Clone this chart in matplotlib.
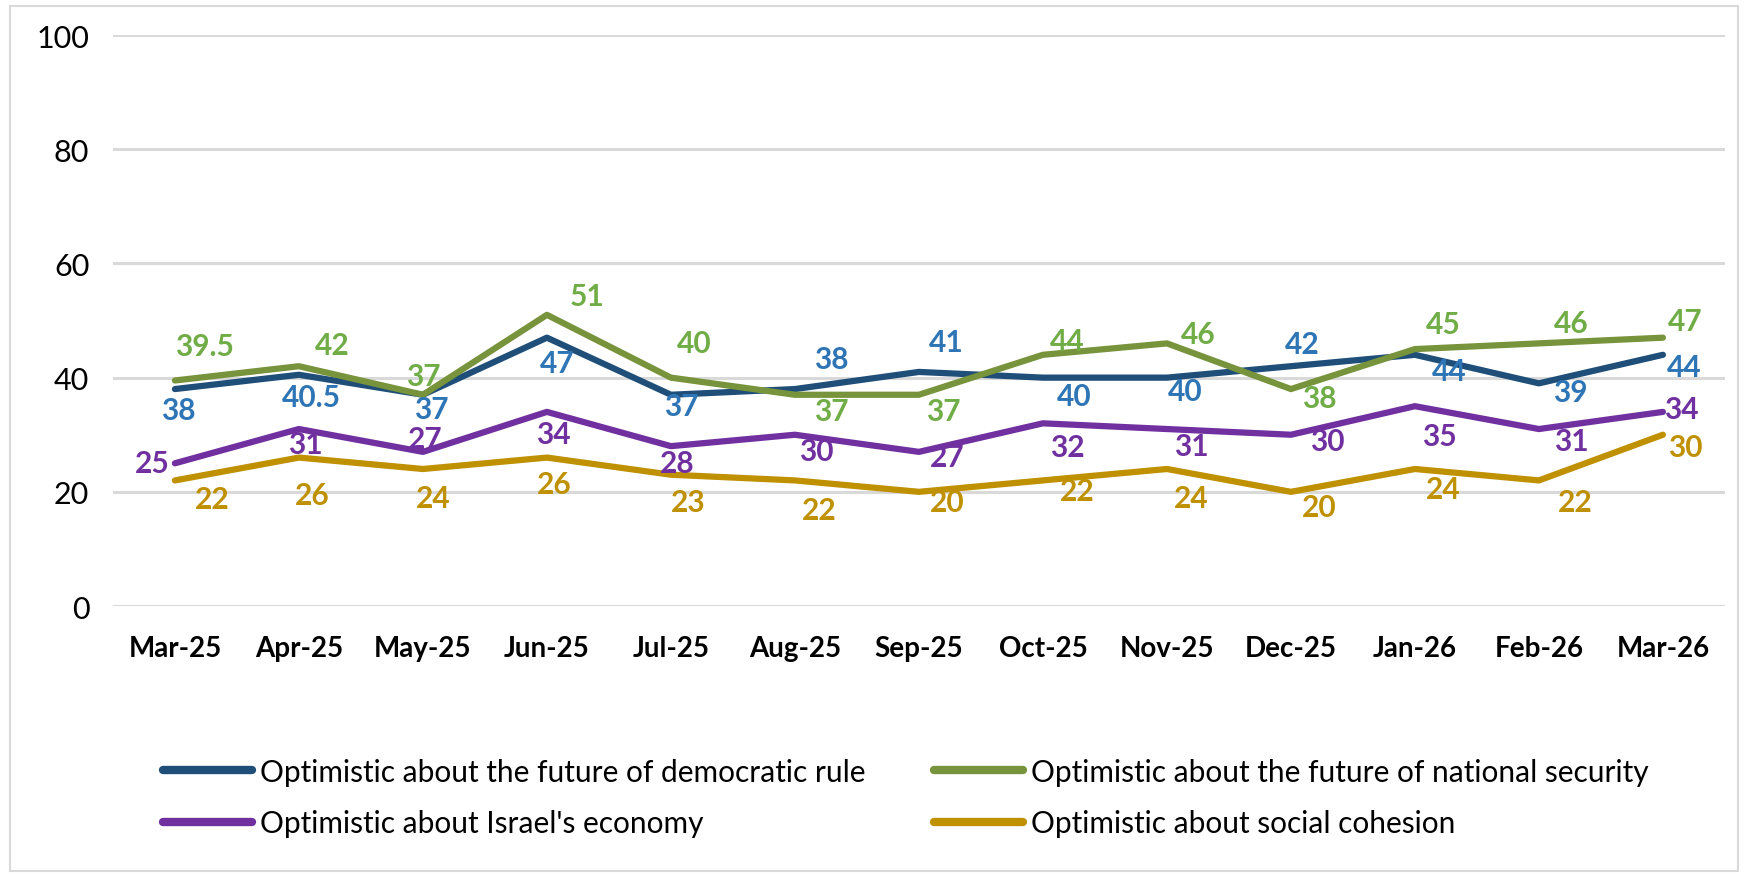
import matplotlib
matplotlib.use("Agg")
from matplotlib import pyplot as plt
from matplotlib.patches import Rectangle

months = ["Mar-25", "Apr-25", "May-25", "Jun-25", "Jul-25", "Aug-25", "Sep-25",
          "Oct-25", "Nov-25", "Dec-25", "Jan-26", "Feb-26", "Mar-26"]

democratic = [38, 40.5, 37, 47, 37, 38, 41, 40, 40, 42, 44, 39, 44]
security = [39.5, 42, 37, 51, 40, 37, 37, 44, 46, 38, 45, 46, 47]
economy = [25, 31, 27, 34, 28, 30, 27, 32, 31, 30, 35, 31, 34]
cohesion = [22, 26, 24, 26, 23, 22, 20, 22, 24, 20, 24, 22, 30]

names = ["Optimistic about the future of democratic rule",
         "Optimistic about the future of national security",
         "Optimistic about Israel's economy",
         "Optimistic about social cohesion"]

# label offsets (category steps, value units) as placed in the original
dem_dx = [0.03, 0.1, 0.07, 0.08, 0.08, 0.29, 0.22, 0.25, 0.15, 0.09, 0.28, 0.25, 0.17]
dem_dy = [-3.7, -3.9, -2.5, -4.4, -1.9, 5.3, 5.3, -3.3, -2.3, 3.9, -2.8, -1.6, -2.1]
sec_dx = [0.24, 0.27, 0.0, 0.32, 0.19, 0.29, 0.2, 0.2, 0.25, 0.23, 0.23, 0.26, 0.18]
sec_dy = [6.0, 3.7, 3.3, 3.3, 6.0, -2.8, -2.8, 2.5, 1.6, -1.6, 4.4, 3.5, 3.0]
eco_dx = [-0.18, 0.05, 0.02, 0.05, 0.05, 0.17, 0.23, 0.2, 0.2, 0.29, 0.2, 0.26, 0.15]
eco_dy = [0.0, -2.6, 2.3, -3.9, -3.0, -2.8, -0.9, -4.2, -3.0, -1.1, -5.3, -2.1, 0.5]
coh_dx = [0.3, 0.11, 0.08, 0.06, 0.14, 0.2, 0.23, 0.28, 0.2, 0.23, 0.23, 0.29, 0.18]
coh_dy = [-3.2, -6.6, -5.1, -4.6, -4.7, -5.1, -1.8, -1.9, -5.1, -2.6, -3.5, -3.7, -2.1]

plt.rcParams['font.family'] = ['Lato', 'DejaVu Sans']

fig = plt.figure(figsize=(17.48, 8.79), dpi=100)
ax = fig.add_axes([0.0646, 0.3094, 0.9222, 0.6496])

x = list(range(len(months)))
series = [
    (democratic, '#1F4E79', '#2E75B6', dem_dx, dem_dy, names[0]),
    (economy, '#7030A0', '#7030A0', eco_dx, eco_dy, names[2]),
    (cohesion, '#BF9000', '#BF9000', coh_dx, coh_dy, names[3]),
    (security, '#77933C', '#70AD47', sec_dx, sec_dy, names[1]),
]

lines = {}
for vals, lc, tc, dx, dy, name in series:
    ln, = ax.plot(x, vals, color=lc, lw=4.5, solid_joinstyle='round',
                  solid_capstyle='round', label=name, zorder=3)
    lines[name] = ln
    for i, v in enumerate(vals):
        ax.text(i + dx[i], v + dy[i], f"{v:g}", color=tc, fontsize=21.5,
                fontweight='bold', ha='center', va='center', zorder=4)

ax.set_xlim(-0.5, len(months) - 0.5)
ax.set_ylim(0, 100)
ax.set_yticks(range(0, 101, 20))
ax.set_xticks(x)
ax.set_xticklabels(months, fontsize=20, fontweight='bold')
ax.tick_params(axis='y', labelsize=22, length=0, pad=17)
ax.tick_params(axis='x', length=0, pad=21)
ax.grid(axis='y', color='#D9D9D9', lw=2.2)
ax.set_axisbelow(True)
for s in ax.spines.values():
    s.set_visible(False)

order = [names[0], names[2], names[1], names[3]]
leg = fig.legend([lines[n] for n in order], order, ncol=2, loc='upper left',
                 bbox_to_anchor=(0.093, 0.137), bbox_transform=fig.transFigure,
                 frameon=False, fontsize=21.5, handlelength=3.0, handletextpad=0.25,
                 columnspacing=2.3, labelspacing=0.8, borderaxespad=0, borderpad=0)
for h in leg.legend_handles:
    h.set_linewidth(6)
    h.set_solid_capstyle('round')

fig.patches.append(Rectangle((10 / 1748, 7 / 879), 1728 / 1748, 865 / 879,
                             transform=fig.transFigure, fill=False,
                             edgecolor='#D9D9D9', lw=1.5))

fig.savefig('out.png', dpi=100)
